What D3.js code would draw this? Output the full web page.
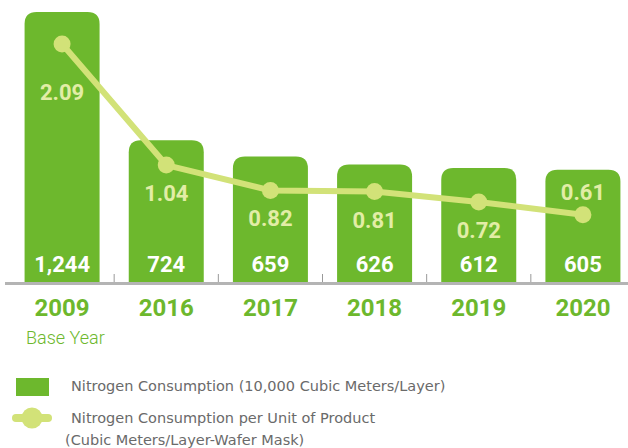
<!DOCTYPE html>
<html>
<head>
<meta charset="utf-8">
<script src="https://cdn.jsdelivr.net/npm/d3@7"></script>
<style>
  html, body { margin: 0; padding: 0; background: #fff; }
  svg { display: block; }
</style>
</head>
<body>
<div id="container"></div>
<script>
// chart data
const years = ["2009", "2016", "2017", "2018", "2019", "2020"];
const consumption = [1244, 724, 659, 626, 612, 605];      // 10,000 cubic meters / layer
const perUnit = [2.09, 1.04, 0.82, 0.81, 0.72, 0.61];     // cubic meters / layer-wafer mask
const legendLabels = [
  "Nitrogen Consumption (10,000 Cubic Meters/Layer)",
  "Nitrogen Consumption per Unit of Product",
  "(Cubic Meters/Layer-Wafer Mask)"
];

let w = 628;
let h = 448;
let baseY = 282;

let green = "#6db82d";
let lineColor = "#d2e278";
let labelColor = "#e2eda6";

let viz = d3.select("#container")
  .append("svg")
    .attr("width", w)
    .attr("height", h)
    .style("font-family", "Roboto, 'DejaVu Sans', sans-serif");

let x = d3.scaleBand()
  .domain(years)
  .range([10, 635])
  .paddingInner(0.28)
  .paddingOuter(0.14);

let y = d3.scaleLinear()
  .domain([150, 1244])
  .range([baseY, 12]);

let yLine = d3.scaleLinear()
  .domain([0, 2.09])
  .range([285, 44]);

// bars with rounded top corners
function barPath(x0, y0, bw, bh, r) {
  return `M${x0},${y0 + bh} V${y0 + r} Q${x0},${y0} ${x0 + r},${y0} H${x0 + bw - r} Q${x0 + bw},${y0} ${x0 + bw},${y0 + r} V${y0 + bh} Z`;
}

viz.selectAll(".bar")
  .data(consumption)
  .enter()
  .append("path")
    .attr("class", "bar")
    .attr("fill", green)
    .attr("d", (d, i) => barPath(x(years[i]), y(d), x.bandwidth(), baseY - y(d), 12));

// axis baseline
viz.append("line")
  .attr("x1", 5).attr("x2", w)
  .attr("y1", baseY + 1.5).attr("y2", baseY + 1.5)
  .attr("stroke", "#b4b4b4")
  .attr("stroke-width", 3);

// tick marks between bands
viz.selectAll(".tick")
  .data(years.slice(1))
  .enter()
  .append("line")
    .attr("class", "tick")
    .attr("x1", d => x(d) - x.step() * x.paddingInner() / 2)
    .attr("x2", d => x(d) - x.step() * x.paddingInner() / 2)
    .attr("y1", baseY - 8).attr("y2", baseY)
    .attr("stroke", "#999")
    .attr("stroke-width", 1);

// bar value labels
viz.selectAll(".barLabel")
  .data(consumption)
  .enter()
  .append("text")
    .attr("class", "barLabel")
    .attr("x", (d, i) => x(years[i]) + x.bandwidth() / 2)
    .attr("y", baseY - 10)
    .attr("text-anchor", "middle")
    .attr("fill", "#fff")
    .attr("font-weight", "bold")
    .attr("font-size", 22)
    .text(d => d3.format(",")(d));

// year labels
viz.selectAll(".year")
  .data(years)
  .enter()
  .append("text")
    .attr("class", "year")
    .attr("x", d => x(d) + x.bandwidth() / 2)
    .attr("y", 316)
    .attr("text-anchor", "middle")
    .attr("fill", green)
    .attr("font-weight", "bold")
    .attr("font-size", 24)
    .text(d => d);

viz.append("text")
  .attr("x", 26)
  .attr("y", 344)
  .attr("fill", green)
  .attr("font-size", 18)
  .attr("font-weight", 300)
  .text("Base Year");

// per-unit line
let line = d3.line()
  .x((d, i) => x(years[i]) + x.bandwidth() / 2)
  .y(d => yLine(d));

viz.append("path")
  .datum(perUnit)
  .attr("fill", "none")
  .attr("stroke", lineColor)
  .attr("stroke-width", 6)
  .attr("d", line);

viz.selectAll(".dot")
  .data(perUnit)
  .enter()
  .append("circle")
    .attr("class", "dot")
    .attr("cx", (d, i) => x(years[i]) + x.bandwidth() / 2)
    .attr("cy", d => yLine(d))
    .attr("r", 8.5)
    .attr("fill", lineColor);

viz.selectAll(".lineLabel")
  .data(perUnit)
  .enter()
  .append("text")
    .attr("class", "lineLabel")
    .attr("x", (d, i) => x(years[i]) + x.bandwidth() / 2)
    .attr("y", (d, i) => {
      if (i == 0) return yLine(d) + 56;
      if (i == perUnit.length - 1) return yLine(d) - 15;
      return yLine(d) + 36;
    })
    .attr("text-anchor", "middle")
    .attr("fill", labelColor)
    .attr("font-weight", "bold")
    .attr("font-size", 22)
    .text(d => d3.format(".2f")(d));

// legend
viz.append("rect")
  .attr("x", 16).attr("y", 378)
  .attr("width", 33).attr("height", 18)
  .attr("fill", green);

viz.append("line")
  .attr("x1", 16).attr("x2", 48)
  .attr("y1", 418).attr("y2", 418)
  .attr("stroke", lineColor)
  .attr("stroke-width", 8)
  .attr("stroke-linecap", "round");

viz.append("circle")
  .attr("cx", 32).attr("cy", 418)
  .attr("r", 10.5)
  .attr("fill", lineColor);

let legendPos = [[71, 391], [71, 423], [65, 445]];
viz.selectAll(".legendText")
  .data(legendLabels)
  .enter()
  .append("text")
    .attr("class", "legendText")
    .attr("x", (d, i) => legendPos[i][0])
    .attr("y", (d, i) => legendPos[i][1])
    .attr("fill", "#6a6a6a")
    .attr("font-size", 14.5)
    .style("font-family", "'DejaVu Sans', sans-serif")
    .text(d => d);
</script>
</body>
</html>
